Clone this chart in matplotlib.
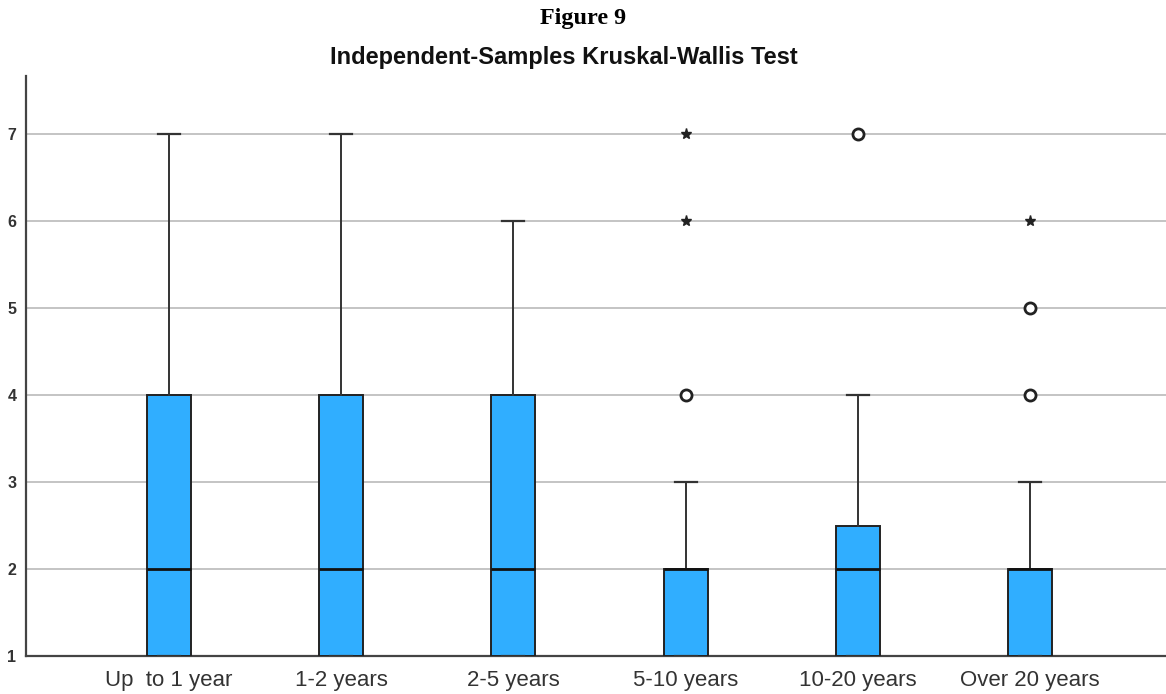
import matplotlib
matplotlib.use("Agg")
import matplotlib.pyplot as plt

# Groups by years of experience
categories = ["Up  to 1 year", "1-2 years", "2-5 years", "5-10 years", "10-20 years", "Over 20 years"]
q1_vals = [1, 1, 1, 1, 1, 1]
median_vals = [2, 2, 2, 2, 2, 2]
q3_vals = [4, 4, 4, 2, 2.5, 2]
whisker_low = [1, 1, 1, 1, 1, 1]
whisker_high = [7, 7, 6, 3, 4, 3]
# mild outliers (circles) and extreme values (stars)
outliers = [[], [], [], [4], [7], [4, 5]]
extremes = [[], [], [], [6, 7], [], [6]]
y_ticks = [1, 2, 3, 4, 5, 6, 7]

box_color = "#30aeff"
line_color = "#333333"

fig = plt.figure(figsize=(11.66, 6.94), dpi=100)
ax = fig.add_axes([0.0223, 0.0548, 0.9777, 0.8357])

stats = []
for i, name in enumerate(categories):
    stats.append(dict(label=name, q1=q1_vals[i], med=median_vals[i], q3=q3_vals[i],
                      whislo=whisker_low[i], whishi=whisker_high[i], fliers=[]))

positions = list(range(len(categories)))
ax.bxp(stats, positions=positions, widths=0.255, patch_artist=True, showfliers=False,
       boxprops=dict(facecolor=box_color, edgecolor="#222222", linewidth=1.4),
       medianprops=dict(color="#111111", linewidth=2.0),
       whiskerprops=dict(color=line_color, linewidth=1.4),
       capprops=dict(color=line_color, linewidth=1.6),
       capwidths=0.128, zorder=3)

for i in positions:
    if outliers[i]:
        ax.plot([i] * len(outliers[i]), outliers[i], linestyle="none", marker="o",
                markersize=8, markerfacecolor="white", markeredgecolor="#222222",
                markeredgewidth=2.0, zorder=4)
    if extremes[i]:
        ax.plot([i] * len(extremes[i]), extremes[i], linestyle="none", marker="*",
                markersize=8, color="#222222", zorder=4)

ax.set_xlim(-0.83, 5.79)
ax.set_ylim(1, 7.67)
ax.set_yticks(y_ticks)
ax.set_yticklabels([str(v) for v in y_ticks], fontsize=11.5, fontweight="bold",
                   color="#333333", family="Liberation Sans")
ax.set_xticks(positions)
ax.set_xticklabels(categories, fontsize=16, color="#333333", family="Liberation Sans")
ax.tick_params(axis="both", length=0)
ax.tick_params(axis="y", pad=7)
ax.tick_params(axis="x", pad=10)

ax.yaxis.grid(True, color="#c4c4c4", linewidth=1.4, zorder=0)
ax.set_axisbelow(True)
for side in ("top", "right"):
    ax.spines[side].set_visible(False)
for side in ("left", "bottom"):
    ax.spines[side].set_color("#444444")
    ax.spines[side].set_linewidth(1.6)

fig.text(0.5, 0.973, "Figure 9", ha="center", va="center", fontsize=17.4,
         fontweight="bold", family="Liberation Serif", color="black")
fig.text(0.4837, 0.917, "Independent-Samples Kruskal-Wallis Test", ha="center", va="center",
         fontsize=17, fontweight="bold", family="Liberation Sans", color="#111111")

fig.savefig("out.png", dpi=100)
